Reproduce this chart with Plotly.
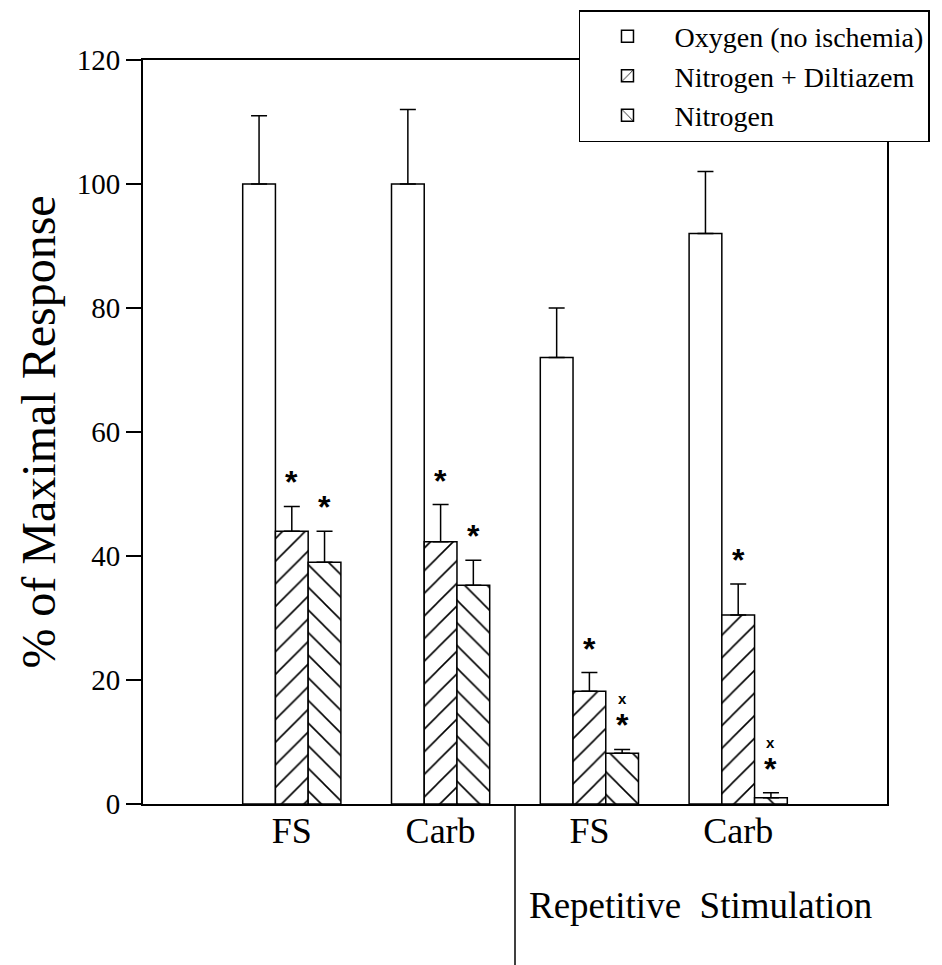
import plotly.graph_objects as go

categories = ["FS", "Carb", "FS", "Carb"]
series_names = ["Oxygen (no ischemia)", "Nitrogen + Diltiazem", "Nitrogen"]
oxygen = [100, 100, 72, 92]
oxygen_err = [11, 12, 8, 10]
nitro_dil = [44, 42.3, 18.2, 30.5]
nitro_dil_err = [4, 6, 3, 5]
nitro = [39, 35.3, 8.2, 1.0]
nitro_err = [5, 4, 0.6, 0.8]
star_nitro_dil = [True, True, True, True]
star_nitro = [True, True, True, True]
cross_nitro = [False, False, True, True]
y_ticks = [0, 20, 40, 60, 80, 100, 120]
group_title = "Repetitive  Stimulation"
y_title = "% of Maximal Response"

SERIF = "Liberation Serif, Times New Roman, serif"
SANS = "Liberation Sans, Arial, sans-serif"
xs = list(range(len(categories)))
BARGAP = 0.34
bw = (1 - BARGAP) / 3

fig = go.Figure()

def add_bar(name, vals, errs, shape):
    fig.add_trace(go.Bar(
        x=xs, y=vals, name=name,
        marker=dict(color="white",
                    line=dict(color="black", width=1.5),
                    pattern=dict(shape=shape, fgcolor="black", bgcolor="white", fgopacity=1,
                                 size=16, solidity=0.1, fillmode="overlay")),
        error_y=dict(type="data", array=errs, arrayminus=[0] * len(errs),
                     symmetric=False, color="black", thickness=1.5, width=8),
    ))

add_bar(series_names[0], oxygen, oxygen_err, "")
add_bar(series_names[1], nitro_dil, nitro_dil_err, "/")
add_bar(series_names[2], nitro, nitro_err, "\\")

star_font = dict(family=SANS, size=32, color="black")
annotations = []
for i in xs:
    if star_nitro_dil[i]:
        annotations.append(dict(x=i, y=nitro_dil[i] + nitro_dil_err[i], xref="x", yref="y",
                                text="<b>*</b>", showarrow=False, yanchor="bottom", yshift=4,
                                font=star_font))
    if star_nitro[i]:
        annotations.append(dict(x=i + bw, y=nitro[i] + nitro_err[i], xref="x", yref="y",
                                text="<b>*</b>", showarrow=False, yanchor="bottom", yshift=4,
                                font=star_font))
    if cross_nitro[i]:
        annotations.append(dict(x=i + bw, y=nitro[i] + nitro_err[i], xref="x", yref="y",
                                text="<b>x</b>", showarrow=False, yanchor="bottom", yshift=40,
                                font=dict(family=SANS, size=15, color="black")))

annotations.append(dict(x=0.749, y=-0.136, xref="paper", yref="paper", text=group_title,
                        showarrow=False, xanchor="center", yanchor="middle",
                        font=dict(family=SERIF, size=37, color="black")))

# page body adds an 8px offset, so margins are reduced by 8 on the left/top
fig.update_layout(
    width=942, height=965,
    margin=dict(l=135, r=63, t=52, b=169, autoexpand=False),
    paper_bgcolor="white", plot_bgcolor="white",
    barmode="group", bargap=BARGAP, bargroupgap=0,
    font=dict(family=SERIF, color="black"),
    showlegend=True,
    legend=dict(xref="paper", yref="paper", x=0.586, y=1.067,
                xanchor="left", yanchor="top",
                bgcolor="white", bordercolor="black", borderwidth=1.5,
                font=dict(family=SERIF, size=28, color="black"),
                itemwidth=84, tracegroupgap=0),
    annotations=annotations,
    shapes=[dict(type="line", xref="x", yref="paper", x0=1.5, x1=1.5, y0=0, y1=-0.23,
                 line=dict(color="black", width=1.5))],
    xaxis=dict(range=[-1, 4], tickvals=xs, ticktext=categories, showgrid=False, zeroline=False,
               showline=True, linecolor="black", linewidth=2, mirror=True, ticks="",
               ticklabelstandoff=-6,
               tickfont=dict(family=SERIF, size=36, color="black")),
    yaxis=dict(range=[0, 120], tickvals=y_ticks, showgrid=False, zeroline=False,
               showline=True, linecolor="black", linewidth=2, mirror=True,
               ticks="outside", ticklen=15, tickwidth=1.5, tickcolor="black",
               tickfont=dict(family=SERIF, size=29, color="black"),
               title=dict(text=y_title, font=dict(family=SERIF, size=48, color="black"), standoff=6)),
)

fig.write_html("out.html")
